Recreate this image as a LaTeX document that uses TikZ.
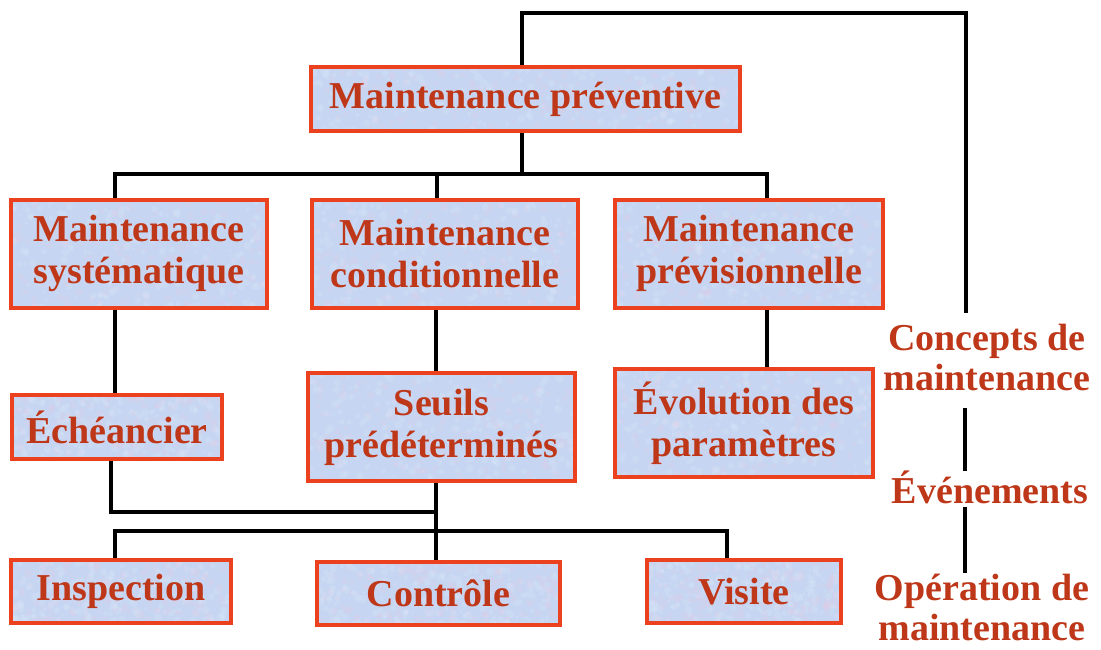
\documentclass[tikz,border=0pt]{standalone}
\usepackage{fontspec}
\setmainfont{Liberation Serif}
\usetikzlibrary{calc}
\definecolor{boxred}{RGB}{235,65,30}
\definecolor{boxblue}{RGB}{198,214,242}
\definecolor{speckpink}{RGB}{226,204,230}
\definecolor{specklight}{RGB}{222,234,250}
\definecolor{txtred}{RGB}{190,55,25}
\begin{document}
\begin{tikzpicture}[x=1pt,y=-1pt,
  box/.style={draw=boxred, line width=4pt, fill=boxblue, text=txtred,
    font=\bfseries\fontsize{38}{42}\selectfont, align=center, inner sep=0pt,
    path picture={
      \path (path picture bounding box.south west) coordinate (psw)
            (path picture bounding box.north east) coordinate (pne);
      \foreach \k in {1,...,220}{
        \fill[speckpink, opacity=0.22] let \p1=(psw), \p2=(pne) in
          ({\x1+rnd*(\x2-\x1)},{\y1+rnd*(\y2-\y1)}) circle[radius={1.5+2.5*rnd}];
        \fill[specklight, opacity=0.22] let \p1=(psw), \p2=(pne) in
          ({\x1+rnd*(\x2-\x1)},{\y1+rnd*(\y2-\y1)}) circle[radius={1.5+2.5*rnd}];
      }
    }},
  lbl/.style={text=txtred, font=\bfseries\fontsize{38}{40}\selectfont, align=center, inner sep=0pt},
  conn/.style={draw=black, line width=3.5pt}]
\pgfmathsetseed{7}
\useasboundingbox (0,0) rectangle (1101,649);

\node[box, minimum width=429pt, minimum height=64pt] (prev) at (525.5,99) {Maintenance préventive};
\node[box, minimum width=256pt, minimum height=108pt] (sys) at (139,253.5) {Maintenance\\systématique};
\node[box, minimum width=266pt, minimum height=108pt] (cond) at (445,253.5) {Maintenance\\conditionnelle};
\node[box, minimum width=268pt, minimum height=108pt] (previs) at (749,253.5) {Maintenance\\prévisionnelle};
\node[box, minimum width=210pt, minimum height=64pt] (ech) at (117,427) {Échéancier};
\node[box, minimum width=267pt, minimum height=108pt] (seuils) at (441.5,427) {Seuils\\prédéterminés};
\node[box, minimum width=258pt, minimum height=108pt] (evol) at (744,423) {Évolution des\\paramètres};
\node[box, minimum width=220pt, minimum height=63pt] (insp) at (121,591.5) {Inspection};
\node[box, minimum width=243pt, minimum height=63pt] (ctrl) at (438.5,593) {Contrôle};
\node[box, minimum width=194pt, minimum height=63pt] (visite) at (744,591.5) {Visite};

\node[lbl] (concepts) at (987,357) {Concepts de\\maintenance};
\node[lbl] (events) at (990,487) {Événements};
\node[lbl] (oper) at (982,607) {Opération de\\maintenance};

\coordinate (tl) at (522,13);
\coordinate (tr) at (966,13);
\coordinate (cend) at (966,313);
\coordinate (b1m) at (522,174);
\coordinate (b1l) at (115,174);
\coordinate (b1c) at (437,174);
\coordinate (b1r) at (767,174);
\coordinate (j1) at (111,512);
\coordinate (j2) at (436,512);
\coordinate (b2l) at (115,531);
\coordinate (b2r) at (727,531);
\coordinate (rx) at (965,0);

\draw[conn] (prev.north -| tl) -- (tl) -- (tr) -- (cend);
\draw[conn] (prev.south -| b1m) -- (b1m);
\draw[conn] (sys.north -| b1l) -- (b1l) -- (b1r) -- (previs.north -| b1r);
\draw[conn] (b1c) -- (cond.north -| b1c);
\draw[conn] (sys.south -| b1l) -- (ech.north -| b1l);
\draw[conn] (cond.south -| j2) -- (seuils.north -| j2);
\draw[conn] (previs.south -| b1r) -- (evol.north -| b1r);
\draw[conn] (ech.south -| j1) -- (j1) -- (j2);
\draw[conn] (seuils.south -| j2) -- (ctrl.north -| j2);
\draw[conn] (insp.north -| b2l) -- (b2l) -- (b2r) -- (visite.north -| b2r);
\draw[conn] ($(concepts.south -| rx)+(0,17)$) -- ($(events.north -| rx)+(0,1)$);
\draw[conn] ($(events.south -| rx)+(0,3)$) -- (oper.north -| rx);
\end{tikzpicture}
\end{document}
